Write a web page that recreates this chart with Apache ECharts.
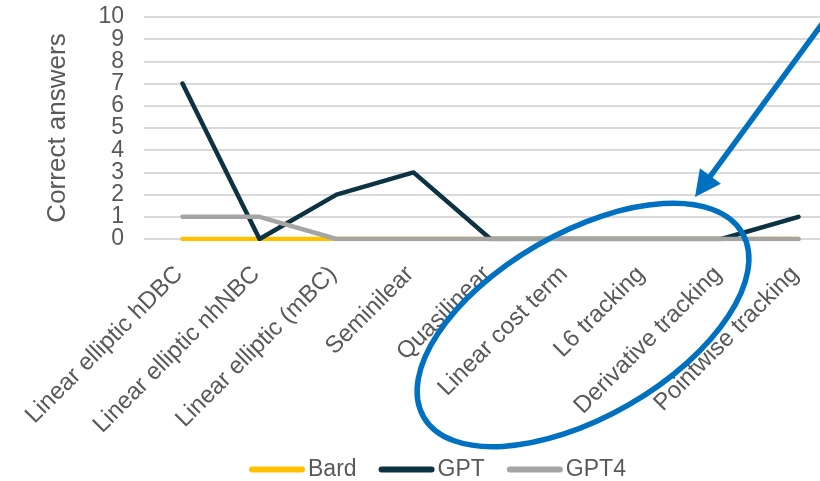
<!DOCTYPE html>
<html>
<head>
<meta charset="utf-8">
<script src="https://cdn.jsdelivr.net/npm/echarts@6/dist/echarts.min.js"></script>
<style>
  html, body { margin: 0; padding: 0; background: #fff; }
  #chart { width: 820px; height: 481px; }
</style>
</head>
<body>
<div id="chart"></div>
<script>
const categories = [
  'Linear elliptic hDBC',
  'Linear elliptic nhNBC',
  'Linear elliptic (mBC)',
  'Seminilear',
  'Quasilinear',
  'Linear cost term',
  'L6 tracking',
  'Derivative tracking',
  'Pointwise tracking'
]
const bard = [0, 0, 0, 0, 0, 0, 0, 0, 0]
const gpt = [7, 0, 2, 3, 0, 0, 0, 0, 1]
const gpt4 = [1, 1, 0, 0, 0, 0, 0, 0, 0]
const yMin = 0
const yMax = 10

const font = '"Liberation Sans", Arial, sans-serif'
const textColor = '#595959'
const annoColor = '#0070C0'

// arrow geometry (annotation, not data)
const tip = [695, 197]
const tail = [830, 13]
const dx = tip[0] - tail[0], dy = tip[1] - tail[1]
const len = Math.sqrt(dx * dx + dy * dy)
const ux = dx / len, uy = dy / len
const headLen = 26, headHalf = 13
const base = [tip[0] - ux * headLen, tip[1] - uy * headLen]
const headPts = [
  tip,
  [base[0] - uy * headHalf, base[1] + ux * headHalf],
  [base[0] + uy * headHalf, base[1] - ux * headHalf]
]

function lineSeries(name, data, color) {
  return {
    name: name,
    type: 'line',
    data: data,
    symbol: 'none',
    lineStyle: { color: color, width: 4.5, cap: 'round', join: 'round' },
    itemStyle: { color: color }
  }
}

const yLabel = { margin: 20, fontFamily: font, fontSize: 23, color: textColor }

const chart = echarts.init(document.getElementById('chart'))
const option = {
  animation: false,
  grid: {
    left: 144, top: 17, width: 693, height: 222,
    outerBounds: { left: -600, top: -600, right: -600, bottom: -600 }
  },
  legend: {
    left: 244,
    top: 453,
    itemGap: 22,
    itemWidth: 56,
    itemHeight: 6,
    icon: 'path://M3,0 L53,0 A3,3 0 0 1 53,6 L3,6 A3,3 0 0 1 3,0 Z',
    textStyle: { fontFamily: font, fontSize: 23, color: textColor, padding: [0, 0, 0, -2] },
    data: ['Bard', 'GPT', 'GPT4']
  },
  xAxis: {
    type: 'category',
    data: categories,
    boundaryGap: true,
    axisLine: { show: false },
    axisTick: { show: false },
    axisLabel: {
      interval: 0,
      rotate: 45,
      margin: 11,
      verticalAlign: 'top',
      padding: [0, 17, 0, 0],
      fontFamily: font,
      fontSize: 24,
      color: textColor
    }
  },
  yAxis: [
    {
      type: 'value',
      min: yMin,
      max: yMax,
      interval: 1,
      name: 'Correct answers',
      nameLocation: 'middle',
      nameGap: 73,
      nameRotate: 90,
      nameTextStyle: { fontFamily: font, fontSize: 26, color: textColor },
      axisLine: { show: false },
      axisTick: { show: false },
      axisLabel: Object.assign({ showMinLabel: false, showMaxLabel: false }, yLabel),
      splitLine: { lineStyle: { color: '#D9D9D9', width: 2 } }
    },
    {
      // second copy of the same scale, only to show the end labels (0 and 10)
      type: 'value',
      position: 'left',
      min: yMin,
      max: yMax,
      interval: 1,
      axisLine: { show: false },
      axisTick: { show: false },
      splitLine: { show: false },
      axisLabel: Object.assign({
        showMinLabel: true,
        showMaxLabel: true,
        formatter: v => (v === yMin || v === yMax) ? String(v) : ''
      }, yLabel)
    }
  ],
  series: [
    lineSeries('Bard', bard, '#FFC000'),
    lineSeries('GPT', gpt, '#0D3242'),
    lineSeries('GPT4', gpt4, '#A5A5A5')
  ],
  graphic: [
    {
      type: 'ellipse',
      z: 100,
      x: 583,
      y: 325,
      rotation: 30 * Math.PI / 180,
      shape: { cx: 0, cy: 0, rx: 184, ry: 92 },
      style: { fill: 'none', stroke: annoColor, lineWidth: 5.5 }
    },
    {
      type: 'line',
      z: 100,
      shape: { x1: tail[0], y1: tail[1], x2: base[0] + ux * 4, y2: base[1] + uy * 4 },
      style: { stroke: annoColor, lineWidth: 5.5 }
    },
    {
      type: 'polygon',
      z: 100,
      shape: { points: headPts },
      style: { fill: annoColor }
    }
  ]
}
chart.setOption(option)
</script>
</body>
</html>
